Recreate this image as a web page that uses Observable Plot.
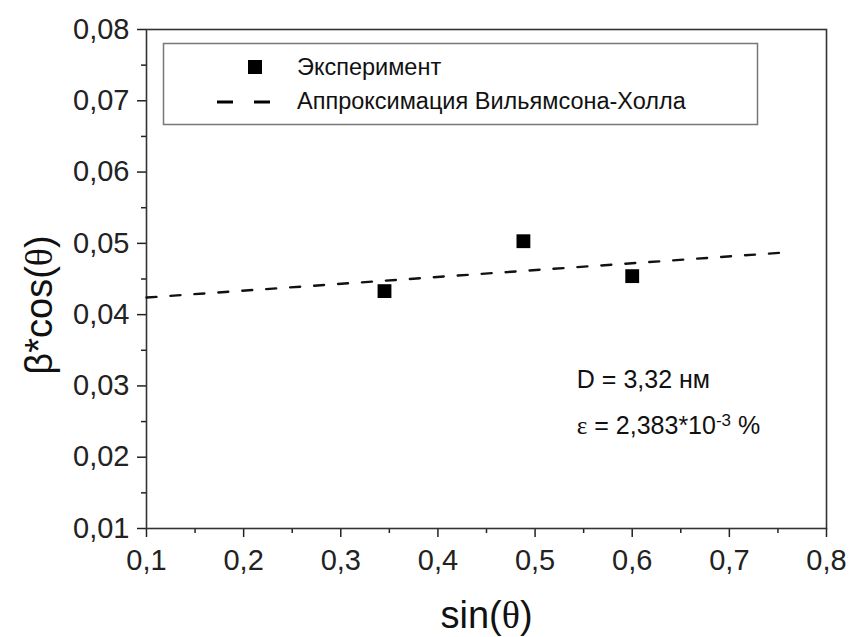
<!DOCTYPE html>
<html><head><meta charset="utf-8">
<script src="https://cdn.jsdelivr.net/npm/d3@7"></script>
<script src="https://cdn.jsdelivr.net/npm/@observablehq/plot@0.6"></script>
<style>
body{margin:0;background:#fff}
#chart svg{display:block}
</style>
</head><body><div id="chart"></div>
<script>
// ---- data ----
const sinTheta = [0.345, 0.488, 0.600];
const betaCos = [0.0433, 0.0503, 0.0454];
const fitX = [0.1, 0.755];
const fitY = [0.0424, 0.0487];
const xTicks = [0.1, 0.2, 0.3, 0.4, 0.5, 0.6, 0.7, 0.8];
const xMinorTicks = [0.15, 0.25, 0.35, 0.45, 0.55, 0.65, 0.75];
const yTicks = [0.01, 0.02, 0.03, 0.04, 0.05, 0.06, 0.07, 0.08];
const yMinorTicks = [0.015, 0.025, 0.035, 0.045, 0.055, 0.065, 0.075];
const seriesNames = ["Эксперимент", "Аппроксимация Вильямсона-Холла"];
const noteText = ["D = 3,32 нм", "ε = 2,383*10^-3 %"];
const noteX = [0.543, 0.543];
const noteY = [0.0308, 0.0244];
const xLabel = "sin(θ)";
const yLabel = "β*cos(θ)";

const points = sinTheta.map((x, i) => ({x, y: betaCos[i]}));
const fit = fitX.map((x, i) => ({x, y: fitY[i]}));
const notes = noteText.map((t, i) => ({t, x: noteX[i], y: noteY[i]}));
const fmt1 = d => d.toFixed(1).replace(".", ",");
const fmt2 = d => d.toFixed(2).replace(".", ",");
const FONT = "'Liberation Sans', Arial, sans-serif";

const plot = Plot.plot({
  width: 851, height: 637,
  marginLeft: 146, marginRight: 25, marginTop: 29, marginBottom: 109,
  style: {fontFamily: FONT, color: "#222", background: "#fff"},
  x: {domain: [0.1, 0.8]},
  y: {domain: [0.01, 0.08]},
  marks: [
    Plot.axisX(xTicks, {tickSize: 9, tickPadding: 12, fontSize: 29, tickFormat: fmt1, label: null, strokeWidth: 1.5}),
    Plot.axisX(xMinorTicks, {tickSize: 5, tickFormat: () => "", label: null, strokeWidth: 1.5}),
    Plot.axisY(yTicks, {tickSize: 9, tickPadding: 8, fontSize: 29, tickFormat: fmt2, label: null, strokeWidth: 1.5}),
    Plot.axisY(yMinorTicks, {tickSize: 5, tickFormat: () => "", label: null, strokeWidth: 1.5}),
    Plot.frame({stroke: "#333", strokeWidth: 1.6}),
    Plot.line(fit, {x: "x", y: "y", stroke: "#111", strokeWidth: 2.4, strokeDasharray: "10,14"}),
    Plot.dot(points, {x: "x", y: "y", symbol: "square", r: 7.8, fill: "#000", stroke: null}),
    Plot.text(notes, {x: "x", y: "y", text: "t", textAnchor: "start", fontSize: 25, fill: "#111"}),
    Plot.text([xLabel], {frameAnchor: "bottom", textAnchor: "middle", lineAnchor: "middle", dy: 87, fontSize: 38, fill: "#111"}),
    Plot.text([yLabel], {frameAnchor: "left", textAnchor: "middle", lineAnchor: "middle", dx: -107, dy: 26, rotate: -90, fontSize: 38, fill: "#111"})
  ]
});

// rich text: serif theta, superscript exponent
const svg = d3.select(plot);
svg.selectAll("text").each(function() {
  const el = d3.select(this);
  const t = this.textContent;
  if (t.includes("θ")) {
    const parts = t.split("θ");
    el.text(null);
    parts.forEach((p, i) => {
      if (p) el.append("tspan").text(p);
      if (i < parts.length - 1) el.append("tspan").attr("font-family", "'Liberation Serif', serif").text("θ");
    });
  } else if (t.includes("^")) {
    const [base, rest] = t.split("^");
    const exp = rest.split(" ")[0];
    const tail = rest.slice(exp.length);
    el.text(null);
    el.append("tspan").attr("font-family", "'Liberation Serif', serif").text(base.slice(0, 1));
    el.append("tspan").text(base.slice(1));
    el.append("tspan").attr("dy", "-0.45em").attr("font-size", "0.68em").text(exp);
    el.append("tspan").attr("dy", "0.31em").text(tail);
  }
});

// legend box inside the plot area
const lg = svg.append("g").attr("font-family", FONT).attr("fill", "#111").attr("text-anchor", "start");
lg.append("rect").attr("x", 163.5).attr("y", 43.5).attr("width", 594).attr("height", 81)
  .attr("fill", "#fff").attr("stroke", "#777").attr("stroke-width", 1.5);
lg.append("rect").attr("x", 248).attr("y", 60).attr("width", 14).attr("height", 14).attr("fill", "#000");
lg.append("text").attr("x", 297).attr("y", 75).attr("font-size", 23.5).text(seriesNames[0]);
lg.append("line").attr("x1", 217).attr("x2", 274).attr("y1", 102).attr("y2", 102)
  .attr("stroke", "#000").attr("stroke-width", 3).attr("stroke-dasharray", "16,21");
lg.append("text").attr("x", 297).attr("y", 109).attr("font-size", 23.5).text(seriesNames[1]);

document.getElementById("chart").append(plot);
</script>
</body></html>
